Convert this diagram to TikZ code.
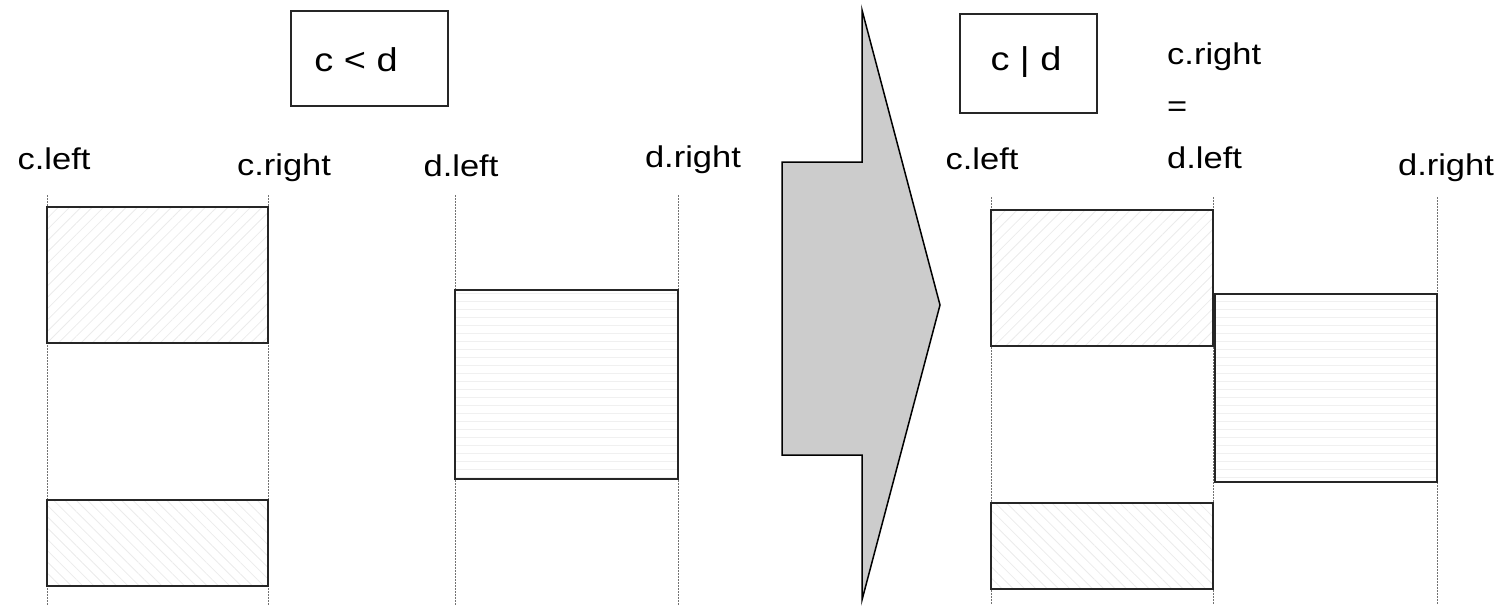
\documentclass[tikz,border=0pt]{standalone}
\usepackage{fontspec}
\setmainfont{Liberation Sans}[FakeStretch=1.15]
\usetikzlibrary{patterns.meta}

\tikzset{
  lbl/.style={font=\fontsize{30}{52}\selectfont, inner sep=0pt},
  ttl/.style={font=\fontsize{33}{40}\selectfont, inner sep=0pt},
  titlebox/.style={draw=black!85, line width=1.6pt, inner sep=0pt, anchor=north west},
  guide/.style={draw=black!55, line width=0.9pt, dash pattern=on 1.5pt off 1.5pt},
  interval/.style={draw=black!85, line width=2pt, inner sep=0pt, outer sep=0pt, anchor=north west},
  cfillA/.style={pattern={Lines[angle=45, distance=8pt, line width=0.8pt]}, pattern color=black!8},
  cfillB/.style={pattern={Lines[angle=-45, distance=8pt, line width=0.8pt]}, pattern color=black!8},
  dfill/.style={pattern={Lines[angle=0, distance=8pt, line width=0.8pt]}, pattern color=black!6},
  bigarrow/.style={draw=black, line width=1.5pt, fill=black!20, line join=miter},
}

\begin{document}
\begin{tikzpicture}[x=1pt, y=-1pt]
  \useasboundingbox (0,0) rectangle (1506,605);

  % ---- left half: c < d ----
  \node[titlebox, minimum width=157pt, minimum height=95pt] (ltitle) at (290,10) {};
  \node[ttl] (ltitletext) at (356,60) {c < d};

  \node[lbl] (lcl) at (54,159) {c.left};
  \node[lbl, anchor=base] (lcr) at (284,175) {c.right};
  \node[lbl] (ldl) at (461,166) {d.left};
  \node[lbl, anchor=base] (ldr) at (693,167) {d.right};

  \coordinate (g1t) at (47,195);   \coordinate (g1b) at (47,605);
  \coordinate (g2t) at (268,195);  \coordinate (g2b) at (268,605);
  \coordinate (g3t) at (455,195);  \coordinate (g3b) at (455,605);
  \coordinate (g4t) at (678,195);  \coordinate (g4b) at (678,605);
  \draw[guide] (g1t) -- (g1b);
  \draw[guide] (g2t) -- (g2b);
  \draw[guide] (g3t) -- (g3b);
  \draw[guide] (g4t) -- (g4b);

  \node[interval, cfillA, minimum width=221pt, minimum height=136pt] (lc1) at (47,207) {};
  \node[interval, cfillB, minimum width=221pt, minimum height=86pt] (lc2) at (47,500) {};
  \node[interval, dfill, minimum width=223pt, minimum height=189pt] (ld) at (455,290) {};

  % ---- block arrow ----
  \draw[bigarrow] (782,162) -- (862,162) -- (862,10) -- (940,305)
                  -- (862,600) -- (862,455) -- (782,455) -- cycle;

  % ---- right half: c | d ----
  \node[titlebox, minimum width=137pt, minimum height=99pt] (rtitle) at (959,13) {};
  \node[ttl] (rtitletext) at (1026,62) {c | d};

  \node[lbl] (rcl) at (982,159) {c.left};
  \node[lbl, anchor=north west, align=left] (rmid) at (1167,43) {c.right\\=\\d.left};
  \node[lbl, anchor=base] (rdr) at (1446,175) {d.right};

  \coordinate (h1t) at (991,197);   \coordinate (h1b) at (991,605);
  \coordinate (h2t) at (1213,197);  \coordinate (h2b) at (1213,605);
  \coordinate (h3t) at (1437,197);  \coordinate (h3b) at (1437,605);
  \draw[guide] (h1t) -- (h1b);
  \draw[guide] (h2t) -- (h2b);
  \draw[guide] (h3t) -- (h3b);

  \node[interval, cfillA, minimum width=222pt, minimum height=136pt] (rc1) at (991,210) {};
  \node[interval, cfillB, minimum width=222pt, minimum height=86pt] (rc2) at (991,503) {};
  \node[interval, dfill, minimum width=222pt, minimum height=188pt] (rd) at (1215,294) {};
\end{tikzpicture}
\end{document}
